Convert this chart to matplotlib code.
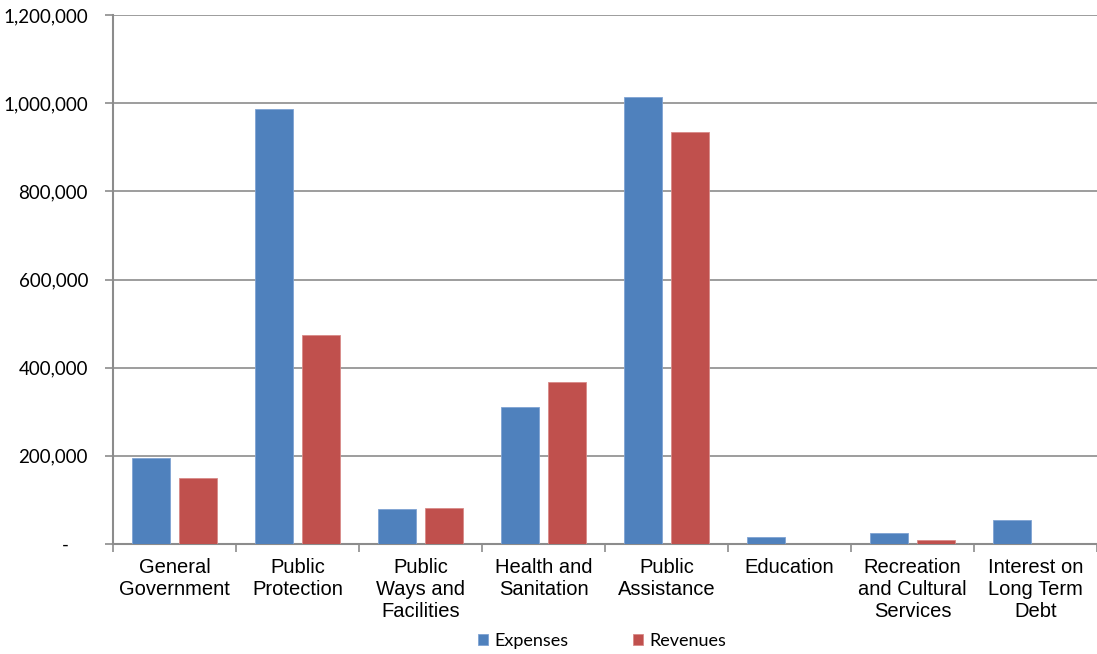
import numpy as np
import matplotlib.pyplot as plt
from matplotlib.ticker import FuncFormatter, FixedLocator

categories = ["General\nGovernment", "Public\nProtection", "Public\nWays and\nFacilities",
              "Health and\nSanitation", "Public\nAssistance", "Education",
              "Recreation\nand Cultural\nServices", "Interest on\nLong Term\nDebt"]
expenses = [196000, 986000, 80000, 311000, 1015000, 16000, 25600, 53700]
revenues = [150000, 473000, 82000, 367000, 934000, 0, 8400, 0]

blue = "#4F81BD"
red = "#C0504D"

def fmt(v, pos):
    if v == 0:
        return "-    "
    return "{:,.0f}".format(v)

fig = plt.figure(figsize=(10.97, 6.54), dpi=100)
ax = fig.add_axes([113 / 1097, 1 - 544 / 654, 1 - 113 / 1097, (544 - 15) / 654])

x = np.arange(len(categories))
ax.bar(x - 0.19, expenses, width=0.31, color=blue, edgecolor="#7fa3d3", linewidth=0.6,
       label="Expenses", zorder=3)
ax.bar(x + 0.19, revenues, width=0.31, color=red, edgecolor="#d88a88", linewidth=0.6,
       label="Revenues", zorder=3)

ax.set_xlim(-0.5, len(categories) - 0.5)
ax.set_ylim(0, 1200000)
ax.set_yticks(np.arange(0, 1200001, 200000))
ax.yaxis.set_major_formatter(FuncFormatter(fmt))
ax.grid(axis="y", color="#8c8c8c", linewidth=1.2, zorder=0)

ax.set_xticks(x)
ax.set_xticklabels(categories, fontsize=14.5, family="Liberation Sans", linespacing=1.22)
ax.tick_params(axis="x", which="major", length=0, pad=10)
ax.xaxis.set_minor_locator(FixedLocator(np.arange(-0.5, len(categories), 1.0)))
ax.tick_params(axis="x", which="minor", length=6, width=1.2, color="#8c8c8c")
ax.tick_params(axis="y", length=6, width=1.2, color="#8c8c8c", pad=12)
for lbl in ax.get_yticklabels():
    lbl.set_fontsize(13.5)
    lbl.set_family("Lato")

for s in ["top", "right"]:
    ax.spines[s].set_visible(False)
for s in ["left", "bottom"]:
    ax.spines[s].set_color("#8c8c8c")
    ax.spines[s].set_linewidth(1.5)

handles, labels = ax.get_legend_handles_labels()
fig.legend(handles, labels, loc="center", bbox_to_anchor=(0.549, 13 / 654), ncol=2,
           frameon=False, prop={"family": "Lato", "size": 13}, handlelength=0.55,
           handleheight=0.55, handletextpad=0.35, columnspacing=3.6)

fig.savefig("out.png", dpi=100)
